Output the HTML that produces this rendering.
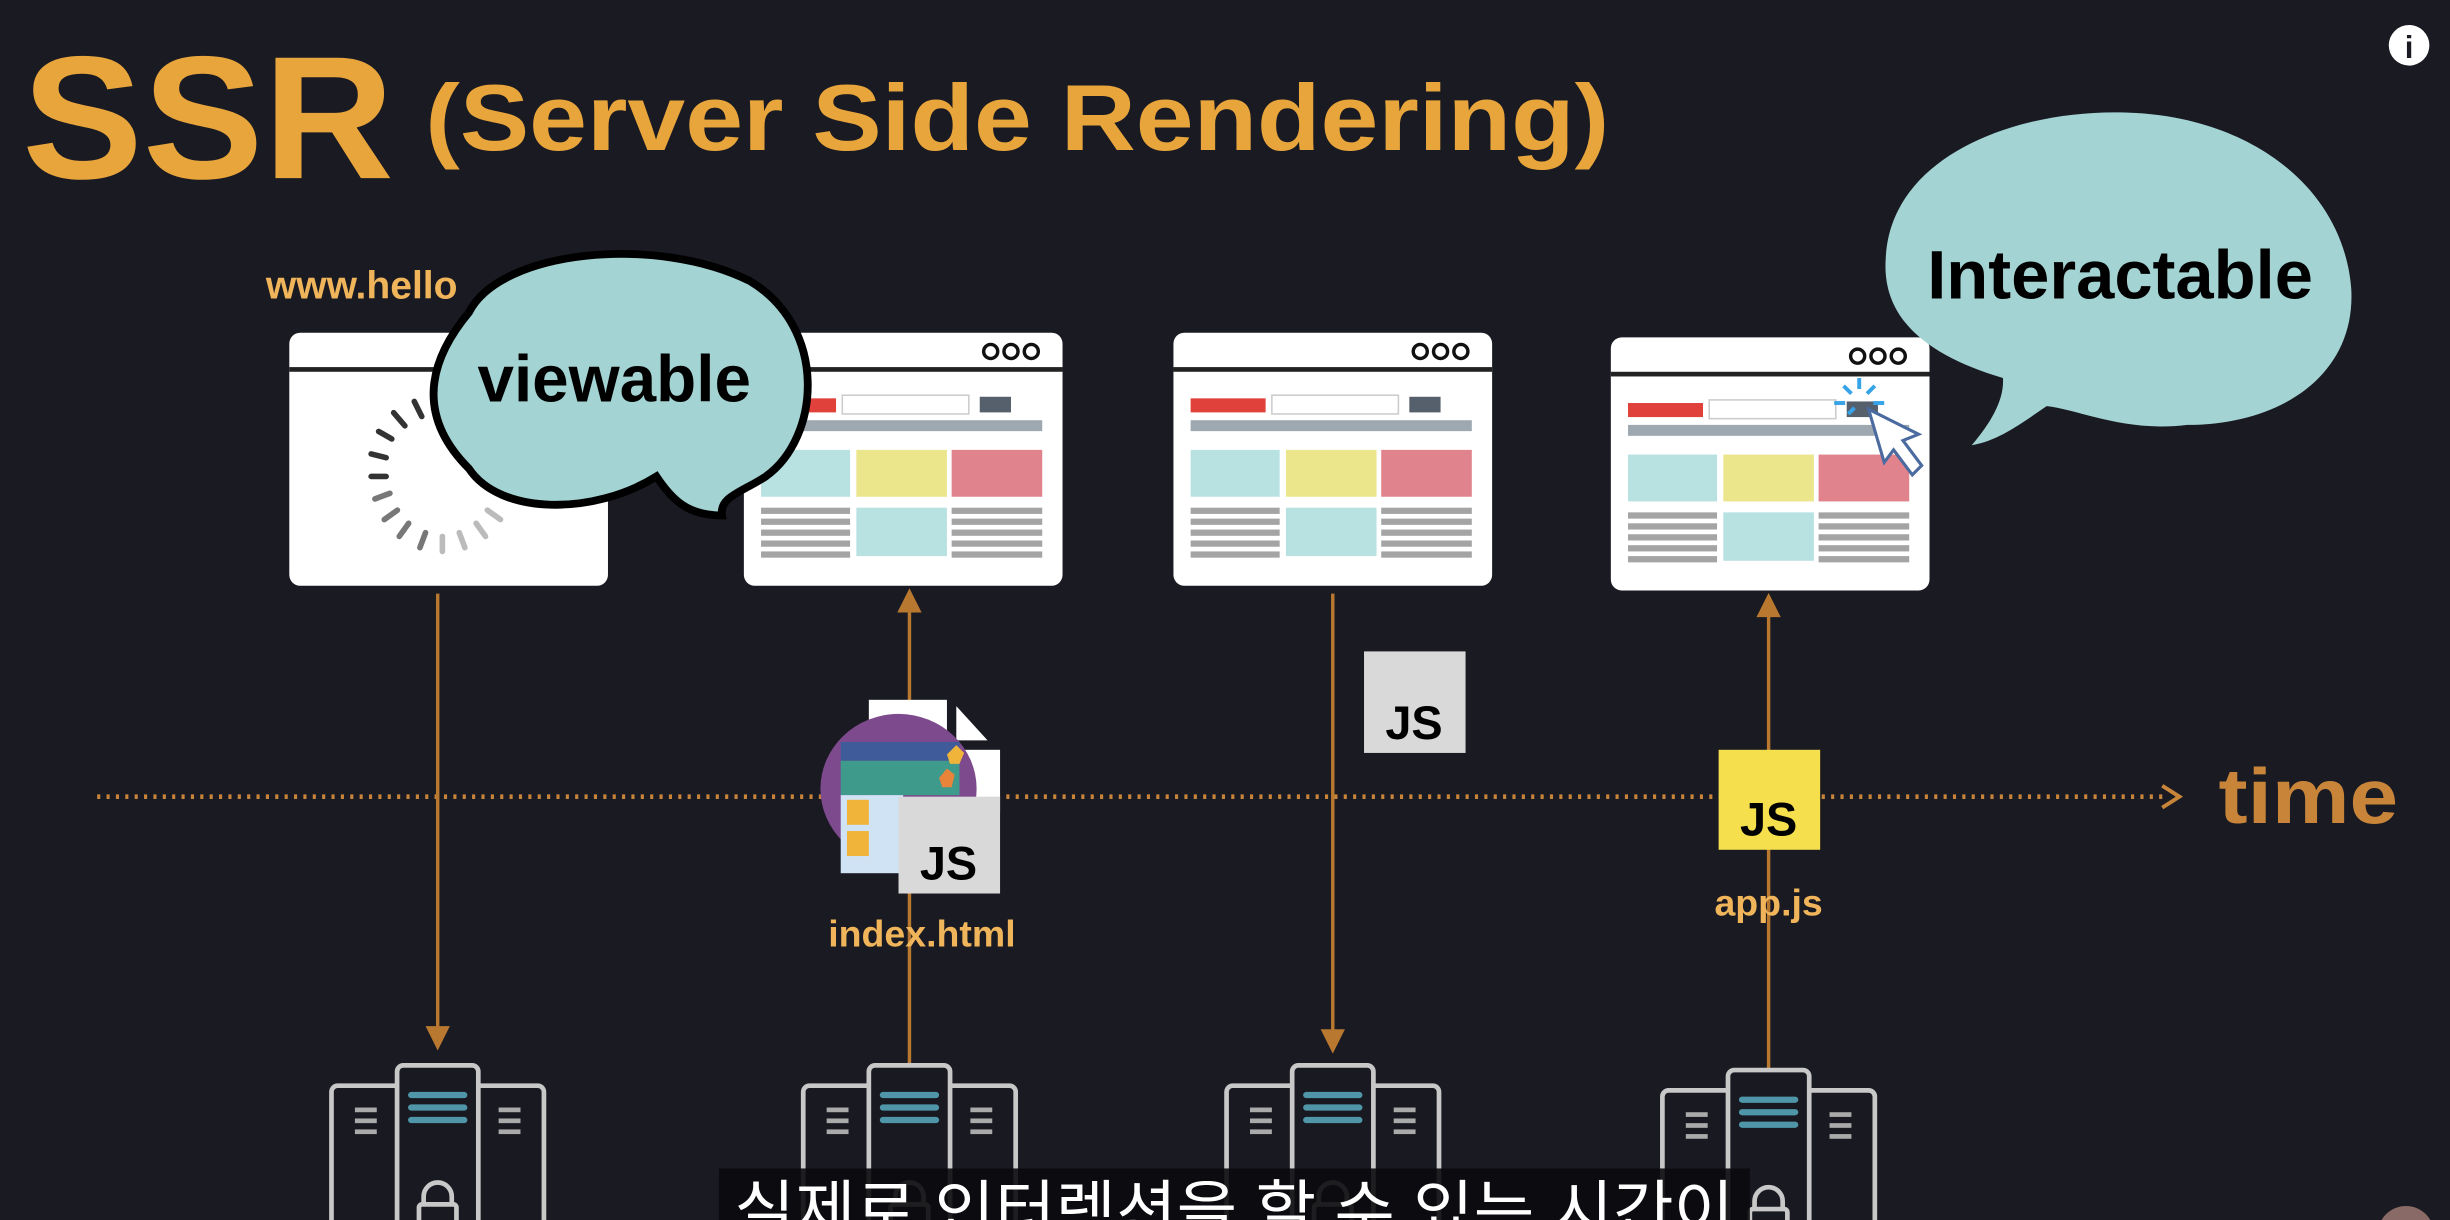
<!DOCTYPE html>
<html><head><meta charset="utf-8"><style>
html,body{margin:0;padding:0;background:#1a1a22;}
svg{display:block;}
</style></head><body>
<svg width="2450" height="1220" viewBox="0 0 1568 781" xmlns="http://www.w3.org/2000/svg" font-family="Liberation Sans, sans-serif">
<rect width="1568" height="781" fill="#1a1a22"/>
<defs>
<g id="content">
  <rect x="11" y="42" width="48" height="9" fill="#e0413a"/>
  <rect x="63" y="40" width="81" height="12" fill="#fff" stroke="#ccc" stroke-width="1"/>
  <rect x="151" y="41" width="20" height="10" fill="#56606c"/>
  <rect x="11" y="56" width="180" height="7" fill="#9ea8b0"/>
  <rect x="11" y="75" width="57" height="30" fill="#b8e2e2"/>
  <rect x="72" y="75" width="58" height="30" fill="#ebe68b"/>
  <rect x="133" y="75" width="58" height="30" fill="#e0838c"/>
  <rect x="72" y="112" width="58" height="31" fill="#b8e2e2"/>
  <g fill="#a4a4a4">
   <rect x="11" y="112" width="57" height="4"/><rect x="11" y="119" width="57" height="4"/><rect x="11" y="126" width="57" height="4"/><rect x="11" y="133" width="57" height="4"/><rect x="11" y="140" width="57" height="4"/>
   <rect x="133" y="112" width="58" height="4"/><rect x="133" y="119" width="58" height="4"/><rect x="133" y="126" width="58" height="4"/><rect x="133" y="133" width="58" height="4"/><rect x="133" y="140" width="58" height="4"/>
  </g>
</g>
<g id="frame">
  <rect x="0" y="0" width="204" height="162" rx="7" fill="#fff"/>
  <rect x="0" y="22" width="204" height="3" fill="#222"/>
  <g fill="none" stroke="#111" stroke-width="2.2"><circle cx="158" cy="12" r="4.5"/><circle cx="171" cy="12" r="4.5"/><circle cx="184" cy="12" r="4.5"/></g>
</g>
<g id="server" fill="#191921" stroke="#c8c8c8" stroke-width="3">
  <rect x="-68" y="13" width="45" height="100" rx="4"/>
  <rect x="23" y="13" width="45" height="100" rx="4"/>
  <rect x="-26" y="0" width="52" height="110" rx="4"/>
  <g stroke="none" fill="#4e96a8"><rect x="-19" y="17" width="38" height="4" rx="2"/><rect x="-19" y="25" width="38" height="4" rx="2"/><rect x="-19" y="33" width="38" height="4" rx="2"/></g>
  <g stroke="none" fill="#aaa"><rect x="-53" y="27" width="14" height="3"/><rect x="-53" y="34" width="14" height="3"/><rect x="-53" y="41" width="14" height="3"/><rect x="39" y="27" width="14" height="3"/><rect x="39" y="34" width="14" height="3"/><rect x="39" y="41" width="14" height="3"/></g>
  <path d="M-9 90 v-6 a9 9 0 0 1 18 0 v6" fill="none"/>
  <rect x="-12" y="89" width="24" height="20" rx="2"/>
</g>
</defs>

<!-- title -->
<text x="14" y="114" font-size="112" font-weight="bold" fill="#e8a53c" textLength="238" lengthAdjust="spacingAndGlyphs">SSR</text>
<text x="272" y="96" font-size="60" font-weight="bold" fill="#e8a53c" textLength="758" lengthAdjust="spacingAndGlyphs">(Server Side Rendering)</text>
<circle cx="1542" cy="29" r="13" fill="#fff"/>
<text x="1542" y="37" font-size="20" font-weight="bold" fill="#1a1a22" text-anchor="middle">i</text>

<text x="170" y="191" font-size="25" font-weight="bold" fill="#f0b55a">www.hello</text>

<!-- timeline -->
<line x1="62" y1="510" x2="1388" y2="510" stroke="#c8853a" stroke-width="3" stroke-dasharray="2 4"/>
<path d="M1384 503 L1395 510 L1384 517" fill="none" stroke="#c8853a" stroke-width="2.5"/>
<text x="1420" y="527" font-size="50" font-weight="bold" fill="#c8853a" textLength="115" lengthAdjust="spacingAndGlyphs">time</text>

<!-- vertical lines -->
<g stroke="#b8782f" stroke-width="2.2" fill="#b8782f">
<line x1="280" y1="380" x2="280" y2="660"/><path d="M274 658 L286 658 L280 670Z"/>
<line x1="582" y1="390" x2="582" y2="682"/><path d="M576 391 L588 391 L582 379Z"/>
<line x1="853" y1="380" x2="853" y2="662"/><path d="M847 660 L859 660 L853 672Z"/>
<line x1="1132" y1="393" x2="1132" y2="684"/><path d="M1126 394 L1138 394 L1132 382Z"/>
</g>

<!-- browsers -->
<g transform="translate(185,213)">
  <use href="#frame"/>
  <g stroke-width="3" stroke-linecap="round" transform="translate(98,92) scale(1.2)">
   <g stroke="#333"><line x1="-15" y1="-40" x2="-11" y2="-32"/><line x1="-26" y1="-34" x2="-20" y2="-27"/><line x1="-34" y1="-24" x2="-27" y2="-20"/><line x1="-38" y1="-12" x2="-30" y2="-10"/><line x1="-38" y1="0" x2="-30" y2="0"/></g>
   <g stroke="#777"><line x1="-36" y1="12" x2="-28" y2="9"/><line x1="-31" y1="23" x2="-24" y2="18"/><line x1="-23" y1="32" x2="-18" y2="25"/><line x1="-12" y1="38" x2="-9" y2="30"/></g>
   <g stroke="#bbb"><line x1="0" y1="40" x2="0" y2="32"/><line x1="12" y1="38" x2="9" y2="30"/><line x1="23" y1="32" x2="18" y2="25"/><line x1="31" y1="23" x2="24" y2="18"/></g>
  </g>
</g>
<g transform="translate(476,213)"><use href="#frame"/><use href="#content"/></g>
<g transform="translate(751,213)"><use href="#frame"/><use href="#content"/></g>
<g transform="translate(1031,216)"><use href="#frame"/><use href="#content"/></g>

<!-- cursor -->
<g transform="translate(1190,258)">
 <g stroke="#36a3e8" stroke-width="2.5"><line x1="0" y1="-16" x2="0" y2="-9"/><line x1="-10" y1="-11" x2="-5" y2="-6"/><line x1="10" y1="-11" x2="5" y2="-6"/><line x1="-16" y1="0" x2="-9" y2="0"/><line x1="9" y1="0" x2="16" y2="0"/><line x1="-7" y1="7" x2="-3" y2="3"/></g>
 <path d="M6 4 L38 20 L28 24 L40 40 L34 46 L22 30 L16 38 Z" fill="#fff" stroke="#4a6aa0" stroke-width="2"/>
</g>

<!-- viewable bubble -->
<path d="M300 200 C320 160 420 150 480 180 C530 210 525 280 490 305 C475 315 460 318 462 330 C440 330 430 320 420 305 C380 330 320 330 300 300 C265 265 275 230 300 200 Z" fill="#a3d3d3" stroke="#000" stroke-width="5"/>
<text x="393" y="257" font-size="42" font-weight="bold" fill="#000" text-anchor="middle">viewable</text>

<!-- interactable bubble -->
<path d="M1207 165 C1210 100 1290 70 1360 72 C1440 74 1500 120 1505 185 C1508 240 1460 272 1400 272 C1360 277 1330 262 1310 260 C1295 270 1280 282 1262 285 C1275 270 1283 255 1282 242 C1235 228 1204 205 1207 165 Z" fill="#a3d3d3"/>
<text x="1357" y="191" font-size="44" font-weight="bold" fill="#000" text-anchor="middle">Interactable</text>

<!-- index.html icon -->
<rect x="556" y="448" width="50" height="60" fill="#fff"/>
<path d="M612 452 L632 474 L612 474Z" fill="#fff"/>
<rect x="612" y="480" width="28" height="40" fill="#fff"/>
<ellipse cx="575" cy="505" rx="50" ry="48" fill="#7d4a8e"/>
<rect x="538" y="475" width="76" height="12" fill="#3f5b9a"/>
<rect x="538" y="487" width="76" height="22" fill="#3e9a8a"/>
<rect x="538" y="509" width="40" height="50" fill="#cfe3f5"/>
<rect x="542" y="512" width="14" height="16" fill="#f0b43a"/><rect x="542" y="532" width="14" height="16" fill="#f0b43a"/>
<path d="M612 477 l5 5 l-3 7 l-6 0 l-2 -6Z" fill="#f0b43a"/><path d="M606 492 l5 4 l-2 8 l-6 0 l-2 -6Z" fill="#e8843a"/>
<rect x="575" y="510" width="65" height="62" fill="#d9d9d9"/>
<text x="607" y="563" font-size="30" font-weight="bold" fill="#000" text-anchor="middle">JS</text>
<text x="590" y="606" font-size="24" font-weight="bold" fill="#f0b55a" text-anchor="middle">index.html</text>

<rect x="873" y="417" width="65" height="65" fill="#d9d9d9"/>
<text x="905" y="473" font-size="30" font-weight="bold" fill="#000" text-anchor="middle">JS</text>

<rect x="1100" y="480" width="65" height="64" fill="#f5df4d"/>
<text x="1132" y="535" font-size="30" font-weight="bold" fill="#000" text-anchor="middle">JS</text>
<text x="1132" y="586" font-size="24" font-weight="bold" fill="#f0b55a" text-anchor="middle">app.js</text>

<!-- servers -->
<use href="#server" transform="translate(280,682)"/>
<use href="#server" transform="translate(582,682)"/>
<use href="#server" transform="translate(853,682)"/>
<use href="#server" transform="translate(1132,685)"/>

<!-- subtitle -->
<rect x="460" y="748" width="660" height="40" fill="#0b0b0e" opacity="0.9"/>
<text x="790" y="790" font-size="42" fill="#fff" text-anchor="middle" font-family="Liberation Sans, Noto Sans CJK KR, sans-serif" textLength="640" lengthAdjust="spacingAndGlyphs">실제로 인터렉션을 할 수 있는 시간이</text>

<circle cx="1540" cy="790" r="18" fill="#8a6a66"/>
</svg>
</body></html>
